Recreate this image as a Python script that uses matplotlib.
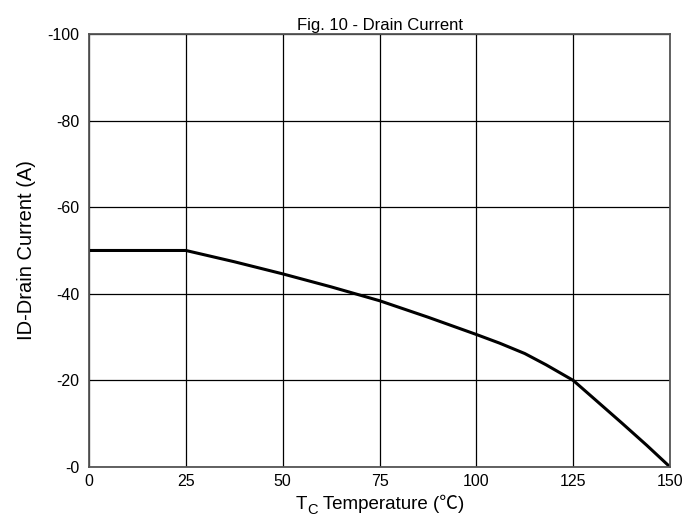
import matplotlib
matplotlib.use("Agg")
import matplotlib.pyplot as plt

# fuentes: Arial-like con respaldo para el signo de grados
plt.rcParams['font.family'] = ['Liberation Sans', 'DejaVu Sans', 'Noto Sans CJK SC']

# datos
temp_c = [0, 25, 37.5, 50, 62.5, 75, 87.5, 100, 106, 112.5, 118, 125, 131, 137.5, 144, 150]
drain_a = [-50, -50, -47.4, -44.6, -41.6, -38.4, -34.6, -30.6, -28.6, -26.2, -23.6, -20, -15.3, -10.2, -5, 0]

x_ticks = [0, 25, 50, 75, 100, 125, 150]
y_ticks = [0, -20, -40, -60, -80, -100]
y_labels = ["-0", "-20", "-40", "-60", "-80", "-100"]

fig = plt.figure(figsize=(6.97, 5.26), dpi=100)
ax = fig.add_axes([0.1277, 0.1122, 0.8336, 0.8232])

ax.plot(temp_c, drain_a, color="black", linewidth=2.2)

ax.set_xlim(0, 150)
ax.set_ylim(0, -100)
ax.set_xticks(x_ticks)
ax.set_yticks(y_ticks)
ax.set_yticklabels(y_labels)
ax.tick_params(length=0, labelsize=11.5)
ax.tick_params(axis="y", pad=7)
ax.tick_params(axis="x", pad=5)
ax.grid(True, color="black", linewidth=0.9)

for s in ax.spines.values():
    s.set_color("#555555")
    s.set_linewidth(1.3)

ax.set_title("Fig. 10 - Drain Current", fontsize=12, pad=3)
ax.set_ylabel("ID-Drain Current (A)", fontsize=14.5, labelpad=8)

# etiqueta x armada a mano: T con subindice C, y el signo de grados en la fuente CJK
fam = ['Liberation Sans', 'Noto Sans CJK SC']
t1 = fig.text(0.41, 0.032, "T", fontsize=13.5, family=fam, va="baseline")
t2 = ax.annotate("C", xy=(1, 0), xycoords=t1, xytext=(0.3, -2.5), textcoords="offset points",
                 fontsize=10.5, family=fam, va="bottom", ha="left")
t3 = ax.annotate(" Temperature (℃)", xy=(1, 0), xycoords=(t2, t1), fontsize=13.5, family=fam,
                 va="bottom", ha="left", annotation_clip=False)
t2.set_annotation_clip(False)

# centrar la etiqueta bajo los ejes
fig.canvas.draw()
r = fig.canvas.get_renderer()
left = t1.get_window_extent(r).x0
right = t3.get_window_extent(r).x1
ax_box = ax.get_window_extent(r)
center = (ax_box.x0 + ax_box.x1) / 2
t1.set_x((left + center - (left + right) / 2) / fig.bbox.width)

plt.savefig("out.png", dpi=100)
